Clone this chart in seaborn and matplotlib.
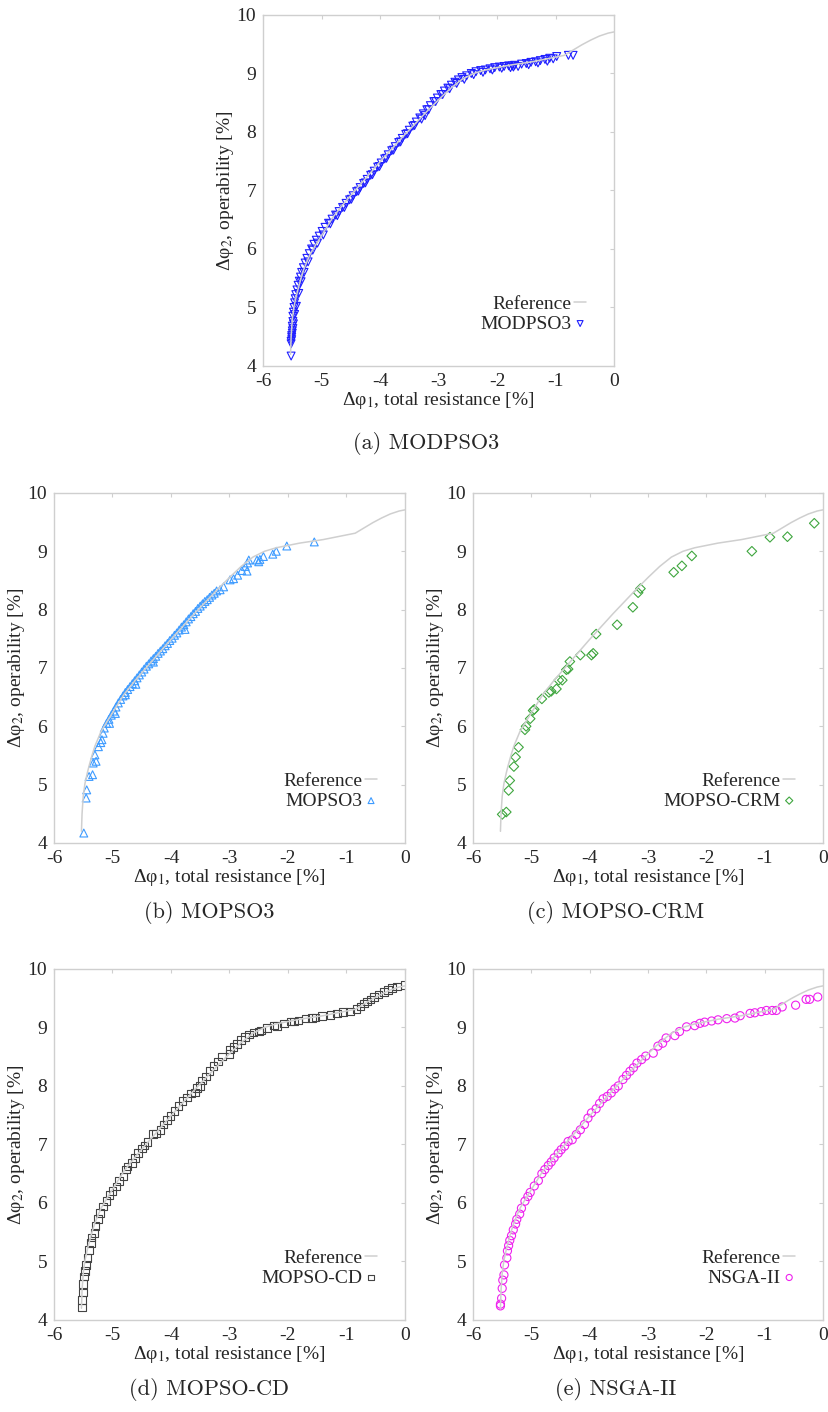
import matplotlib
matplotlib.use("Agg")
import matplotlib.pyplot as plt
import seaborn as sns

# reference front (grey line, same in every panel)
ref_x = [-5.53, -5.52, -5.50, -5.47, -5.43, -5.40, -5.35, -5.30, -5.20, -5.10, -5.00, -4.80,
         -4.60, -4.40, -4.20, -4.00, -3.80, -3.60, -3.40, -3.20, -3.00, -2.80, -2.60, -2.40,
         -2.20, -2.00, -1.80, -1.60, -1.40, -1.20, -1.00, -0.85, -0.70, -0.55, -0.40, -0.25,
         -0.10, 0.00]
ref_y = [4.20, 4.50, 4.80, 5.02, 5.20, 5.32, 5.50, 5.66, 5.90, 6.07, 6.23, 6.55,
         6.80, 7.03, 7.26, 7.49, 7.71, 7.93, 8.14, 8.35, 8.55, 8.74, 8.90, 9.00,
         9.06, 9.10, 9.14, 9.17, 9.20, 9.24, 9.28, 9.31, 9.40, 9.49, 9.57, 9.64,
         9.69, 9.71]

# (a) MODPSO3
modpso3_x = [-5.52, -5.52, -5.51, -5.51, -5.50, -5.50, -5.49, -5.49, -5.48, -5.47, -5.46, -5.45,
             -5.44, -5.42, -5.40, -5.38, -5.36, -5.34, -5.31, -5.28, -5.25, -5.21, -5.17, -5.13,
             -5.09, -5.04, -4.99, -4.94, -4.88, -4.82, -4.76, -4.70, -4.64, -4.58, -4.52, -4.46,
             -4.40, -4.34, -4.28, -4.22, -4.16, -4.10, -4.04, -3.98, -3.92, -3.86, -3.80, -3.74,
             -3.68, -3.62, -3.56, -3.50, -3.44, -3.38, -3.32, -3.26, -3.20, -3.14, -3.08, -3.02,
             -2.96, -2.90, -2.84, -2.78, -2.72, -2.66, -2.60, -2.52, -2.44, -2.36, -2.28, -2.20,
             -2.12, -2.04, -1.96, -1.88, -1.80, -1.74, -1.70, -1.58, -1.50, -1.42, -1.34, -1.26,
             -1.18, -1.10, -0.98, -0.78, -0.70,
             -5.52, -5.51, -5.50, -5.49, -5.48, -5.46, -5.43, -5.39, -5.35, -5.30, -5.23, -5.15,
             -5.07, -4.97, -4.85, -4.73, -4.61, -4.49, -4.37, -4.25, -4.13, -4.01, -3.89, -3.77,
             -3.65, -3.53, -3.41, -3.29, -3.23, -3.17, -3.05, -2.93, -2.81, -2.69, -2.56, -2.40,
             -2.24, -2.08, -1.92, -1.77, -1.72, -1.64, -1.46, -1.30, -1.14, -1.04]
modpso3_y = [4.17, 4.38, 4.45, 4.52, 4.60, 4.68, 4.76, 4.85, 4.92, 5.00, 5.08, 5.15,
             5.22, 5.30, 5.38, 5.45, 5.52, 5.60, 5.68, 5.76, 5.84, 5.92, 6.00, 6.08,
             6.15, 6.22, 6.30, 6.37, 6.44, 6.51, 6.58, 6.64, 6.71, 6.78, 6.84, 6.91,
             6.98, 7.05, 7.12, 7.19, 7.26, 7.33, 7.40, 7.47, 7.54, 7.61, 7.68, 7.75,
             7.82, 7.89, 7.96, 8.03, 8.10, 8.17, 8.24, 8.31, 8.38, 8.45, 8.52, 8.58,
             8.64, 8.70, 8.75, 8.80, 8.85, 8.89, 8.93, 8.96, 9.00, 9.03, 9.05, 9.06,
             9.08, 9.10, 9.11, 9.12, 9.13, 9.13, 9.14, 9.16, 9.17, 9.19, 9.20, 9.22,
             9.24, 9.26, 9.29, 9.31, 9.31,
             4.42, 4.49, 4.56, 4.64, 4.72, 4.88, 5.02, 5.24, 5.44, 5.60, 5.78, 5.98,
             6.10, 6.24, 6.43, 6.57, 6.71, 6.85, 6.99, 7.13, 7.27, 7.41, 7.55, 7.69,
             7.83, 7.97, 8.11, 8.22, 8.28, 8.38, 8.52, 8.64, 8.74, 8.83, 8.90, 8.98,
             9.02, 9.06, 9.09, 9.10, 9.11, 9.12, 9.15, 9.18, 9.21, 9.25]

# (b) MOPSO3
mopso3_x = [-5.49, -5.45, -5.44, -5.40, -5.34, -5.33, -5.30, -5.28, -5.24, -5.20, -5.18, -5.16,
            -5.14, -5.10, -5.06, -5.02, -4.98, -4.94, -4.90, -4.86, -4.82, -4.78, -4.74, -4.70,
            -4.66, -4.62, -4.58, -4.54, -4.50, -4.46, -4.42, -4.38, -4.34, -4.30, -4.26, -4.22,
            -4.18, -4.14, -4.10, -4.06, -4.02, -3.98, -3.94, -3.90, -3.86, -3.82, -3.78, -3.74,
            -3.70, -3.66, -3.62, -3.58, -3.54, -3.50, -3.46, -3.42, -3.38, -3.34, -3.30, -3.26,
            -3.22, -5.05, -4.95, -4.78, -4.60, -4.30, -3.76, -3.16, -3.10, -2.99, -2.93, -2.86,
            -2.79, -2.73, -2.70, -2.69, -2.67, -2.53, -2.50, -2.48, -2.42, -2.26, -2.20, -2.02,
            -1.55]
mopso3_y = [4.17, 4.77, 4.91, 5.14, 5.17, 5.37, 5.51, 5.40, 5.65, 5.72, 5.77, 5.88,
            5.97, 6.05, 6.12, 6.19, 6.26, 6.33, 6.40, 6.46, 6.52, 6.58, 6.63, 6.68,
            6.73, 6.78, 6.83, 6.88, 6.93, 6.98, 7.03, 7.07, 7.12, 7.16, 7.20, 7.25,
            7.29, 7.33, 7.38, 7.42, 7.47, 7.51, 7.56, 7.60, 7.65, 7.70, 7.74, 7.79,
            7.84, 7.88, 7.93, 7.97, 8.02, 8.06, 8.10, 8.14, 8.17, 8.21, 8.25, 8.28,
            8.32, 6.05, 6.22, 6.54, 6.72, 7.10, 7.66, 8.34, 8.39, 8.51, 8.53, 8.59,
            8.67, 8.74, 8.66, 8.80, 8.85, 8.85, 8.82, 8.86, 8.91, 8.95, 9.00, 9.09,
            9.16]

# (c) MOPSO-CRM
crm_x = [-5.50, -5.43, -5.39, -5.37, -5.30, -5.27, -5.22, -5.11, -5.09, -5.02, -4.97, -4.95,
         -4.82, -4.70, -4.66, -4.57, -4.53, -4.47, -4.40, -4.37, -4.34, -4.16, -3.97, -3.94,
         -3.89, -3.53, -3.26, -3.17, -3.13, -2.56, -2.42, -2.25, -1.22, -0.91, -0.61, -0.15]
crm_y = [4.49, 4.53, 4.90, 5.07, 5.31, 5.47, 5.64, 5.94, 6.00, 6.13, 6.27, 6.29,
         6.47, 6.58, 6.60, 6.64, 6.79, 6.79, 6.97, 6.98, 7.11, 7.22, 7.22, 7.25,
         7.58, 7.74, 8.04, 8.29, 8.36, 8.64, 8.75, 8.92, 9.00, 9.24, 9.25, 9.48]

# (d) MOPSO-CD
cd_x = [-5.52, -5.52, -5.50, -5.50, -5.49, -5.47, -5.45, -5.43, -5.40, -5.37, -5.36, -5.31,
        -5.29, -5.25, -5.21, -5.16, -5.10, -5.05, -5.00, -4.93, -4.89, -4.81, -4.77, -4.74,
        -4.67, -4.61, -4.56, -4.50, -4.45, -4.40, -4.31, -4.26, -4.18, -4.13, -4.07, -4.01,
        -3.94, -3.87, -3.80, -3.73, -3.66, -3.59, -3.56, -3.50, -3.47, -3.40, -3.34, -3.27,
        -3.20, -3.13, -3.00, -2.99, -2.93, -2.87, -2.80, -2.73, -2.67, -2.59, -2.50, -2.46,
        -2.36, -2.24, -2.19, -2.07, -1.96, -1.90, -1.82, -1.70, -1.59, -1.53, -1.42, -1.27,
        -1.16, -1.06, -0.94, -0.83, -0.76, -0.70, -0.65, -0.59, -0.53, -0.45, -0.36, -0.29,
        -0.22, -0.14, 0.00]
cd_y = [4.21, 4.34, 4.47, 4.61, 4.74, 4.84, 4.94, 5.06, 5.20, 5.31, 5.41, 5.49,
        5.61, 5.73, 5.83, 5.94, 6.03, 6.14, 6.20, 6.28, 6.37, 6.45, 6.57, 6.62,
        6.68, 6.77, 6.85, 6.93, 6.98, 7.04, 7.18, 7.19, 7.25, 7.34, 7.42, 7.49,
        7.57, 7.66, 7.74, 7.80, 7.87, 7.89, 7.96, 8.00, 8.09, 8.16, 8.25, 8.34,
        8.42, 8.50, 8.55, 8.62, 8.67, 8.72, 8.78, 8.84, 8.88, 8.91, 8.93, 8.95,
        8.99, 9.03, 9.02, 9.07, 9.10, 9.10, 9.12, 9.15, 9.16, 9.17, 9.19, 9.21,
        9.24, 9.26, 9.27, 9.31, 9.36, 9.41, 9.44, 9.48, 9.52, 9.56, 9.61, 9.64,
        9.67, 9.70, 9.72]

# (e) NSGA-II
nsga_x = [-5.53, -5.53, -5.51, -5.50, -5.49, -5.47, -5.46, -5.42, -5.41, -5.39, -5.37, -5.34,
          -5.31, -5.27, -5.25, -5.20, -5.17, -5.11, -5.06, -5.02, -4.95, -4.88, -4.82, -4.77,
          -4.71, -4.66, -4.61, -4.54, -4.49, -4.43, -4.37, -4.30, -4.23, -4.16, -4.09, -4.03,
          -3.97, -3.89, -3.83, -3.77, -3.70, -3.63, -3.57, -3.51, -3.43, -3.37, -3.31, -3.25,
          -3.19, -3.11, -3.04, -2.91, -2.83, -2.75, -2.69, -2.54, -2.46, -2.34, -2.20, -2.11,
          -2.03, -1.91, -1.80, -1.65, -1.51, -1.42, -1.25, -1.17, -1.06, -0.97, -0.87, -0.80,
          -0.70, -0.47, -0.29, -0.23, -0.09]
nsga_y = [4.24, 4.27, 4.37, 4.54, 4.68, 4.77, 4.94, 5.06, 5.18, 5.27, 5.36, 5.44,
          5.54, 5.64, 5.72, 5.81, 5.91, 6.03, 6.11, 6.18, 6.29, 6.38, 6.50, 6.57,
          6.64, 6.70, 6.77, 6.85, 6.91, 6.97, 7.05, 7.08, 7.17, 7.25, 7.34, 7.45,
          7.54, 7.61, 7.70, 7.78, 7.82, 7.88, 7.95, 8.00, 8.11, 8.18, 8.25, 8.31,
          8.39, 8.45, 8.51, 8.56, 8.68, 8.73, 8.82, 8.86, 8.93, 9.01, 9.03, 9.07,
          9.09, 9.11, 9.13, 9.15, 9.16, 9.20, 9.24, 9.25, 9.27, 9.29, 9.29, 9.29,
          9.35, 9.38, 9.48, 9.48, 9.52]

sns.set_theme(style="white")
plt.rcParams["font.family"] = ["Liberation Serif", "DejaVu Serif"]
plt.rcParams["mathtext.fontset"] = "stix"
plt.rcParams["axes.unicode_minus"] = False

grey = "#cfcfcf"
fig = plt.figure(figsize=(8.29, 14.12), dpi=100)

# name, xs, ys, colour, marker, marker size, axes rect, caption, caption pos
panels = [
    ("MODPSO3", modpso3_x, modpso3_y, "#1f1fff", "v", 32, [0.3173, 0.7408, 0.4234, 0.2486], "(a) MODPSO3", (0.514, 0.686)),
    ("MOPSO3", mopso3_x, mopso3_y, "#3d9bff", "^", 32, [0.0651, 0.4030, 0.4234, 0.2479], "(b) MOPSO3", (0.252, 0.354)),
    ("MOPSO-CRM", crm_x, crm_y, "#3fa63f", "D", 24, [0.5706, 0.4030, 0.4222, 0.2479], "(c) MOPSO-CRM", (0.743, 0.354)),
    ("MOPSO-CD", cd_x, cd_y, "#444444", "s", 30, [0.0651, 0.0652, 0.4234, 0.2486], "(d) MOPSO-CD", (0.252, 0.016)),
    ("NSGA-II", nsga_x, nsga_y, "#ee22ee", "o", 34, [0.5706, 0.0652, 0.4222, 0.2486], "(e) NSGA-II", (0.743, 0.016)),
]

for name, xs, ys, col, mk, msize, rect, cap, cpos in panels:
    ax = fig.add_axes(rect)
    sns.lineplot(x=ref_x, y=ref_y, sort=False, estimator=None, color=grey, lw=1.1,
                 label="Reference", ax=ax)
    sns.scatterplot(x=xs, y=ys, marker=mk, s=msize, fc="none", ec=col, linewidth=0.8,
                    label=name, ax=ax)
    ax.set_xlim(-6, 0)
    ax.set_ylim(4, 10)
    ax.set_xticks(range(-6, 1))
    ax.set_yticks(range(4, 11))
    ax.tick_params(direction="in", length=3, width=0.8, color=grey, labelsize=14,
                   top=True, right=True, pad=5)
    for sp in ax.spines.values():
        sp.set_color(grey)
        sp.set_linewidth(1.0)
    ax.set_xlabel("Δφ$_1$, total resistance [%]", fontsize=14, labelpad=0)
    ax.set_ylabel("Δφ$_2$, operability [%]", fontsize=14, labelpad=0)
    ax.legend(loc="lower right", bbox_to_anchor=(0.92, 0.095), frameon=False,
              markerfirst=False, handlelength=0.6, handletextpad=0.15,
              labelspacing=0.12, fontsize=14, markerscale=0.75, borderpad=0,
              borderaxespad=0)
    fig.text(cpos[0], cpos[1], cap, family="cmr10", fontsize=16, ha="center", va="center")

fig.savefig("out.png", dpi=100)
